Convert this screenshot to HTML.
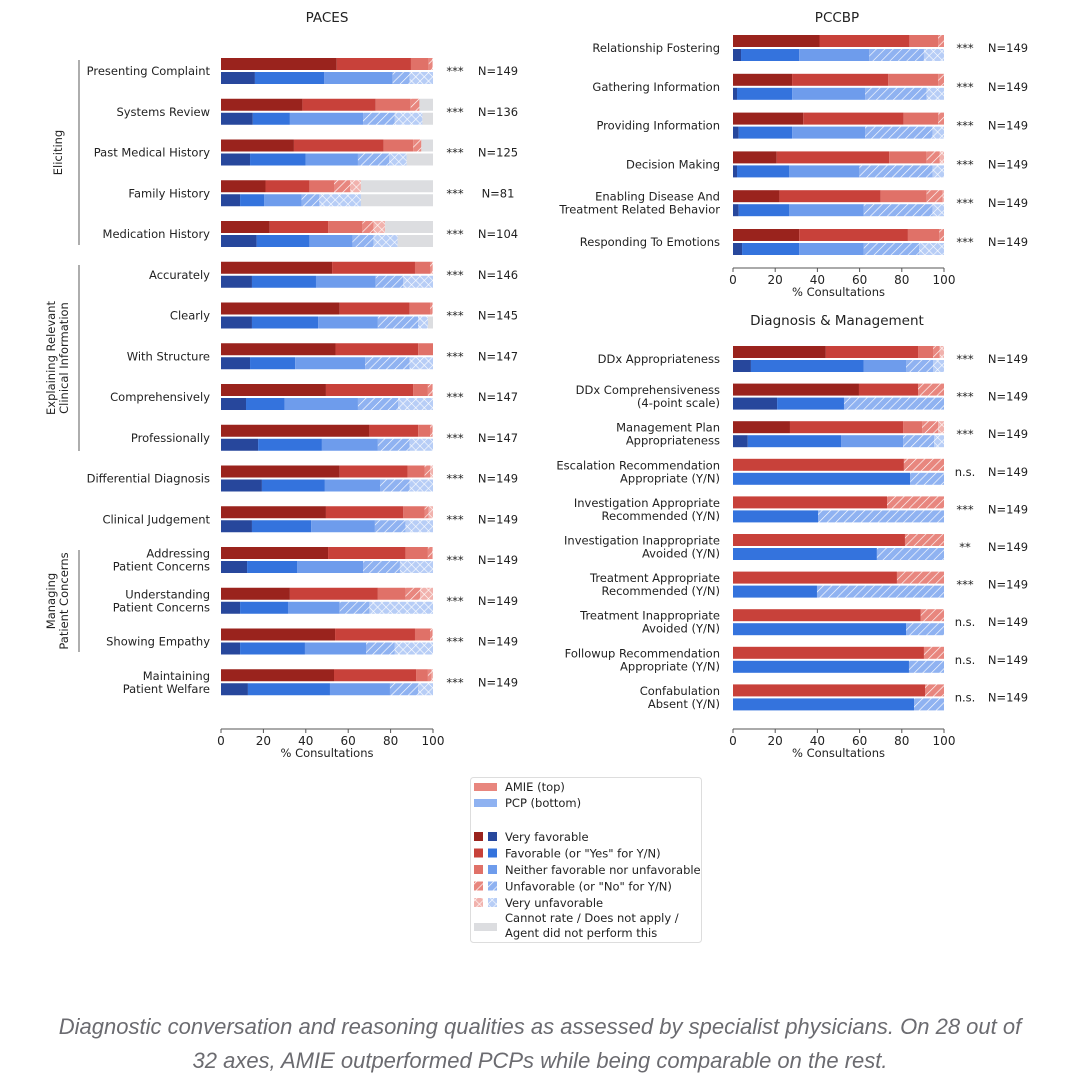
<!DOCTYPE html>
<html><head><meta charset="utf-8">
<style>
body{margin:0;background:#fff;width:1080px;height:1087px;overflow:hidden;font-family:"DejaVu Sans","Liberation Sans",sans-serif;}
svg text{font-family:"DejaVu Sans","Liberation Sans",sans-serif;fill:#222;}
#caption{position:absolute;left:0;top:1010px;width:1080px;text-align:center;font-family:"Liberation Sans",sans-serif;font-style:italic;font-size:22px;line-height:34px;color:#6b6b70;}
</style></head>
<body>
<svg id="chart" width="1080" height="1000" xmlns="http://www.w3.org/2000/svg" style="position:absolute;left:0;top:0">
<defs>
<pattern id="hAr" width="6" height="6" patternUnits="userSpaceOnUse" patternTransform="rotate(45)"><rect width="6" height="6" fill="#e8867e"/><line x1="0" y1="0" x2="0" y2="6" stroke="#fff" stroke-width="1.3"/></pattern>
<pattern id="hAb" width="6" height="6" patternUnits="userSpaceOnUse" patternTransform="rotate(45)"><rect width="6" height="6" fill="#8fb2f1"/><line x1="0" y1="0" x2="0" y2="6" stroke="#fff" stroke-width="1.3"/></pattern>
<pattern id="xAr" width="6" height="6" patternUnits="userSpaceOnUse" patternTransform="rotate(45)"><rect width="6" height="6" fill="#f1b2ad"/><line x1="0" y1="0" x2="0" y2="6" stroke="#fff" stroke-width="1.2"/><line x1="0" y1="0" x2="6" y2="0" stroke="#fff" stroke-width="1.2"/></pattern>
<pattern id="xAb" width="6" height="6" patternUnits="userSpaceOnUse" patternTransform="rotate(45)"><rect width="6" height="6" fill="#b7cdf6"/><line x1="0" y1="0" x2="0" y2="6" stroke="#fff" stroke-width="1.2"/><line x1="0" y1="0" x2="6" y2="0" stroke="#fff" stroke-width="1.2"/></pattern>
</defs>
<g id="g"></g>
</svg>
<div id="caption">Diagnostic conversation and reasoning qualities as assessed by specialist physicians. On 28 out of<br>32 axes, AMIE outperformed PCPs while being comparable on the rest.</div>
<script>
// Segment order: very favorable, favorable, neither, unfavorable, very unfavorable, cannot rate
const pacesLabels=[["Presenting Complaint"],["Systems Review"],["Past Medical History"],["Family History"],["Medication History"],["Accurately"],["Clearly"],["With Structure"],["Comprehensively"],["Professionally"],["Differential Diagnosis"],["Clinical Judgement"],["Addressing","Patient Concerns"],["Understanding","Patient Concerns"],["Showing Empathy"],["Maintaining","Patient Welfare"]];
const pacesSig=["***","***","***","***","***","***","***","***","***","***","***","***","***","***","***","***"];
const pacesN=["N=149","N=136","N=125","N=81","N=104","N=146","N=145","N=147","N=147","N=147","N=149","N=149","N=149","N=149","N=149","N=149"];
const pacesAmie=[[54.6,35,8.4,1.6,0.4,0],[38.4,34.6,16.5,4.1,0,6.4],[34.4,42.3,14,3.8,0,5.5],[21,20.7,11.6,7.7,5,34],[23,27.5,16.2,5.3,5.4,22.6],[52.4,39.1,7.1,0.9,0.5,0],[56,33,9.6,1,0.4,0],[54,39,7,0,0,0],[49.5,41.1,7,2,0.4,0],[70,23,5.6,1,0.4,0],[56,32,8,2.6,1.4,0],[49.5,36.5,10,2,2,0],[50.5,36.5,10.6,2,0.4,0],[32.5,41.5,13,7,6,0],[53.8,37.7,7.1,1,0.4,0],[53.3,38.7,5.6,1.8,0.6,0]];
const pacesPcp=[[16,32.6,32.4,8,11,0],[15,17.5,34.5,15,13,5],[13.7,26.3,24.6,14.8,8.2,12.4],[9,11.3,17.7,8.4,19.6,34],[16.8,24.9,20.3,10,11.3,16.7],[14.6,30.2,28.2,13,14,0],[14.6,31.2,28.2,19,4.6,2.4],[13.7,21.3,33,21,11,0],[11.8,18.2,34.6,18.9,16.5,0],[17.5,30.1,26.4,15,11,0],[19.3,29.7,26,14,11,0],[14.6,27.9,30.1,14.4,13,0],[12.3,23.7,31,17.4,15.6,0],[9,22.6,24.4,14,30,0],[9,30.6,28.8,13.6,18,0],[12.7,38.7,28.3,13.3,7,0]];

const pccLabels=[["Relationship Fostering"],["Gathering Information"],["Providing Information"],["Decision Making"],["Enabling Disease And","Treatment Related Behavior"],["Responding To Emotions"]];
const pccSig=["***","***","***","***","***","***"];
const pccN=["N=149","N=149","N=149","N=149","N=149","N=149"];
const pccAmie=[[41,42.6,13.6,2.8,0,0],[28,45.6,23.7,2.7,0,0],[33.3,47.6,16.4,2.7,0,0],[20.7,53.3,17.8,6.2,2,0],[22,48,21.8,7.6,0.6,0],[31.4,51.5,14.9,2.2,0,0]];
const pccPcp=[[3.8,27.6,33.2,25.9,9.5,0],[1.9,26.1,34.6,29.2,8.2,0],[2.7,25.3,34.6,32,5.4,0],[1.9,24.8,33.2,34.7,5.4,0],[2.7,24,35.3,32.6,5.4,0],[4.3,27.1,30.6,26.3,11.7,0]];

const dmLabels=[["DDx Appropriateness"],["DDx Comprehensiveness","(4-point scale)"],["Management Plan","Appropriateness"],["Escalation Recommendation","Appropriate (Y/N)"],["Investigation Appropriate","Recommended (Y/N)"],["Investigation Inappropriate","Avoided (Y/N)"],["Treatment Appropriate","Recommended (Y/N)"],["Treatment Inappropriate","Avoided (Y/N)"],["Followup Recommendation","Appropriate (Y/N)"],["Confabulation","Absent (Y/N)"]];
const dmSig=["***","***","***","n.s.","***","**","***","n.s.","n.s.","n.s."];
const dmN=["N=149","N=149","N=149","N=149","N=149","N=149","N=149","N=149","N=149","N=149"];
const dmAmie=[[44,43.7,7.1,3.2,2,0],[59.7,28,0,12.3,0,0],[27,53.6,9,7.6,2.8,0],[0,81,0,19,0,0],[0,73,0,27,0,0],[0,81.5,0,18.5,0,0],[0,77.7,0,22.3,0,0],[0,89,0,11,0,0],[0,90.5,0,9.5,0,0],[0,91,0,9,0,0]];
const dmPcp=[[8.5,53.5,20,12.8,5.2,0],[20.9,31.7,0,47.4,0,0],[7,44.2,29.4,14.7,4.7,0],[0,84,0,16,0,0],[0,40.3,0,59.7,0,0],[0,68.2,0,31.8,0,0],[0,39.8,0,60.2,0,0],[0,82,0,18,0,0],[0,83.4,0,16.6,0,0],[0,85.8,0,14.2,0,0]];
const ticks=[0,20,40,60,80,100];

const NS="http://www.w3.org/2000/svg";
const G=document.getElementById('g');
const redC=["#9a231d","#c8413a","#e07168","url(#hAr)","url(#xAr)","#dcdde0"];
const bluC=["#27479c","#3473dd","#6e9cec","url(#hAb)","url(#xAb)","#dcdde0"];
function el(t,a,p){const e=document.createElementNS(NS,t);for(const k in a)e.setAttribute(k,a[k]);(p||G).appendChild(e);return e;}
function txt(x,y,s,o){const e=el('text',Object.assign({x:x,y:y,'font-size':11.5},o||{}));e.textContent=s;return e;}

function panel(cfg){
  const sx=v=>cfg.x0+v*(cfg.x1-cfg.x0)/100;
  const cy=i=>cfg.y0+i*cfg.step;
  cfg.labels.forEach((lab,i)=>{
    const c=cy(i);
    const row=el('g',{});
    
    
    [[cfg.amie[i],redC,c-13,'amie'],[cfg.pcp[i],bluC,c+1,'pcp']].forEach(([vals,cols,y,who])=>{
      let acc=0;
      vals.forEach((v,k)=>{
        if(v<=0)return;
        const r=el('rect',{x:sx(acc),y:y,width:sx(acc+v)-sx(acc),height:12,fill:cols[k]},row);
        
        
        acc+=v;
      });
    });
    const lines=lab.length;
    lab.forEach((s,j)=>{
      const t=txt(cfg.lx,c+4+(j-(lines-1)/2)*13,s,{'text-anchor':'end'});
      
      
    });
    const st=txt(cfg.sigx,c+4,cfg.sig[i],{'text-anchor':'middle'});
    
    
    const nt=txt(cfg.nx,c+4,cfg.n[i],{'text-anchor':'middle'});
    
    
  });
  const ax=el('line',{x1:sx(0),x2:sx(100),y1:cfg.axy,y2:cfg.axy,stroke:'#555','stroke-width':1});
  
  
  ticks.forEach(t=>{
    el('line',{x1:sx(t),x2:sx(t),y1:cfg.axy,y2:cfg.axy+4,stroke:'#555'});
    const tl=txt(sx(t),cfg.axy+16,String(t),{'text-anchor':'middle','font-size':12});
    
    
  });
  const xt=txt((sx(0)+sx(100))/2,cfg.axy+28,'% Consultations',{'text-anchor':'middle','font-size':11.5});
  
  
  const ti=txt(cfg.tx,cfg.ty,cfg.title,{'text-anchor':'middle','font-size':13.5});
  
  
}
panel({labels:pacesLabels,amie:pacesAmie,pcp:pacesPcp,sig:pacesSig,n:pacesN,x0:221,x1:433,y0:71,step:40.75,lx:210,sigx:455,nx:498,axy:729,title:'PACES',tx:327,ty:22});
panel({labels:pccLabels,amie:pccAmie,pcp:pccPcp,sig:pccSig,n:pccN,x0:733,x1:944,y0:48,step:38.8,lx:720,sigx:965,nx:1008,axy:268,title:'PCCBP',tx:837,ty:22});
panel({labels:dmLabels,amie:dmAmie,pcp:dmPcp,sig:dmSig,n:dmN,x0:733,x1:944,y0:359,step:37.6,lx:720,sigx:965,nx:1008,axy:729,title:'Diagnosis & Management',tx:837,ty:325});

// group brackets
[[60,245,['Eliciting']],[265,451,['Explaining Relevant','Clinical Information']],[550,652,['Managing','Patient Concerns']]].forEach(([a,b,ls])=>{
  const l=el('line',{x1:79,x2:79,y1:a,y2:b,stroke:'#777','stroke-width':1.2});
  
  
  const m=(a+b)/2;
  ls.forEach((s,j)=>{
    const x=ls.length===1?62:55+j*13;
    const t=txt(x,m,s,{'text-anchor':'middle',transform:`rotate(-90 ${x} ${m})`});
    
    
  });
});

// legend
const lg=el('g',{});


el('rect',{x:470.5,y:777.5,width:231,height:165,rx:3,fill:'#fff',stroke:'#ddd'},lg);
el('rect',{x:474,y:783,width:23,height:8,fill:'#e8867e'},lg);
txt(505,791,'AMIE (top)',{'font-size':11.5});
el('rect',{x:474,y:799,width:23,height:8,fill:'#8fb2f1'},lg);
const lgItems=["Very favorable",'Favorable (or "Yes" for Y/N)',"Neither favorable nor unfavorable",'Unfavorable (or "No" for Y/N)',"Very unfavorable"];
txt(505,807,'PCP (bottom)',{'font-size':11.5});
lgItems.forEach((s,k)=>{
  const y=832+k*16.5;
  el('rect',{x:474,y:y,width:9,height:9,fill:redC[k]},lg);
  el('rect',{x:488,y:y,width:9,height:9,fill:bluC[k]},lg);
  const t=txt(505,y+9,s,{'font-size':11.5});
  
  
});
el('rect',{x:474,y:923,width:23,height:8,fill:'#dcdde0'},lg);
txt(505,922,'Cannot rate / Does not apply /',{'font-size':11.5});
txt(505,937,'Agent did not perform this',{'font-size':11.5});
</script>
</body></html>
